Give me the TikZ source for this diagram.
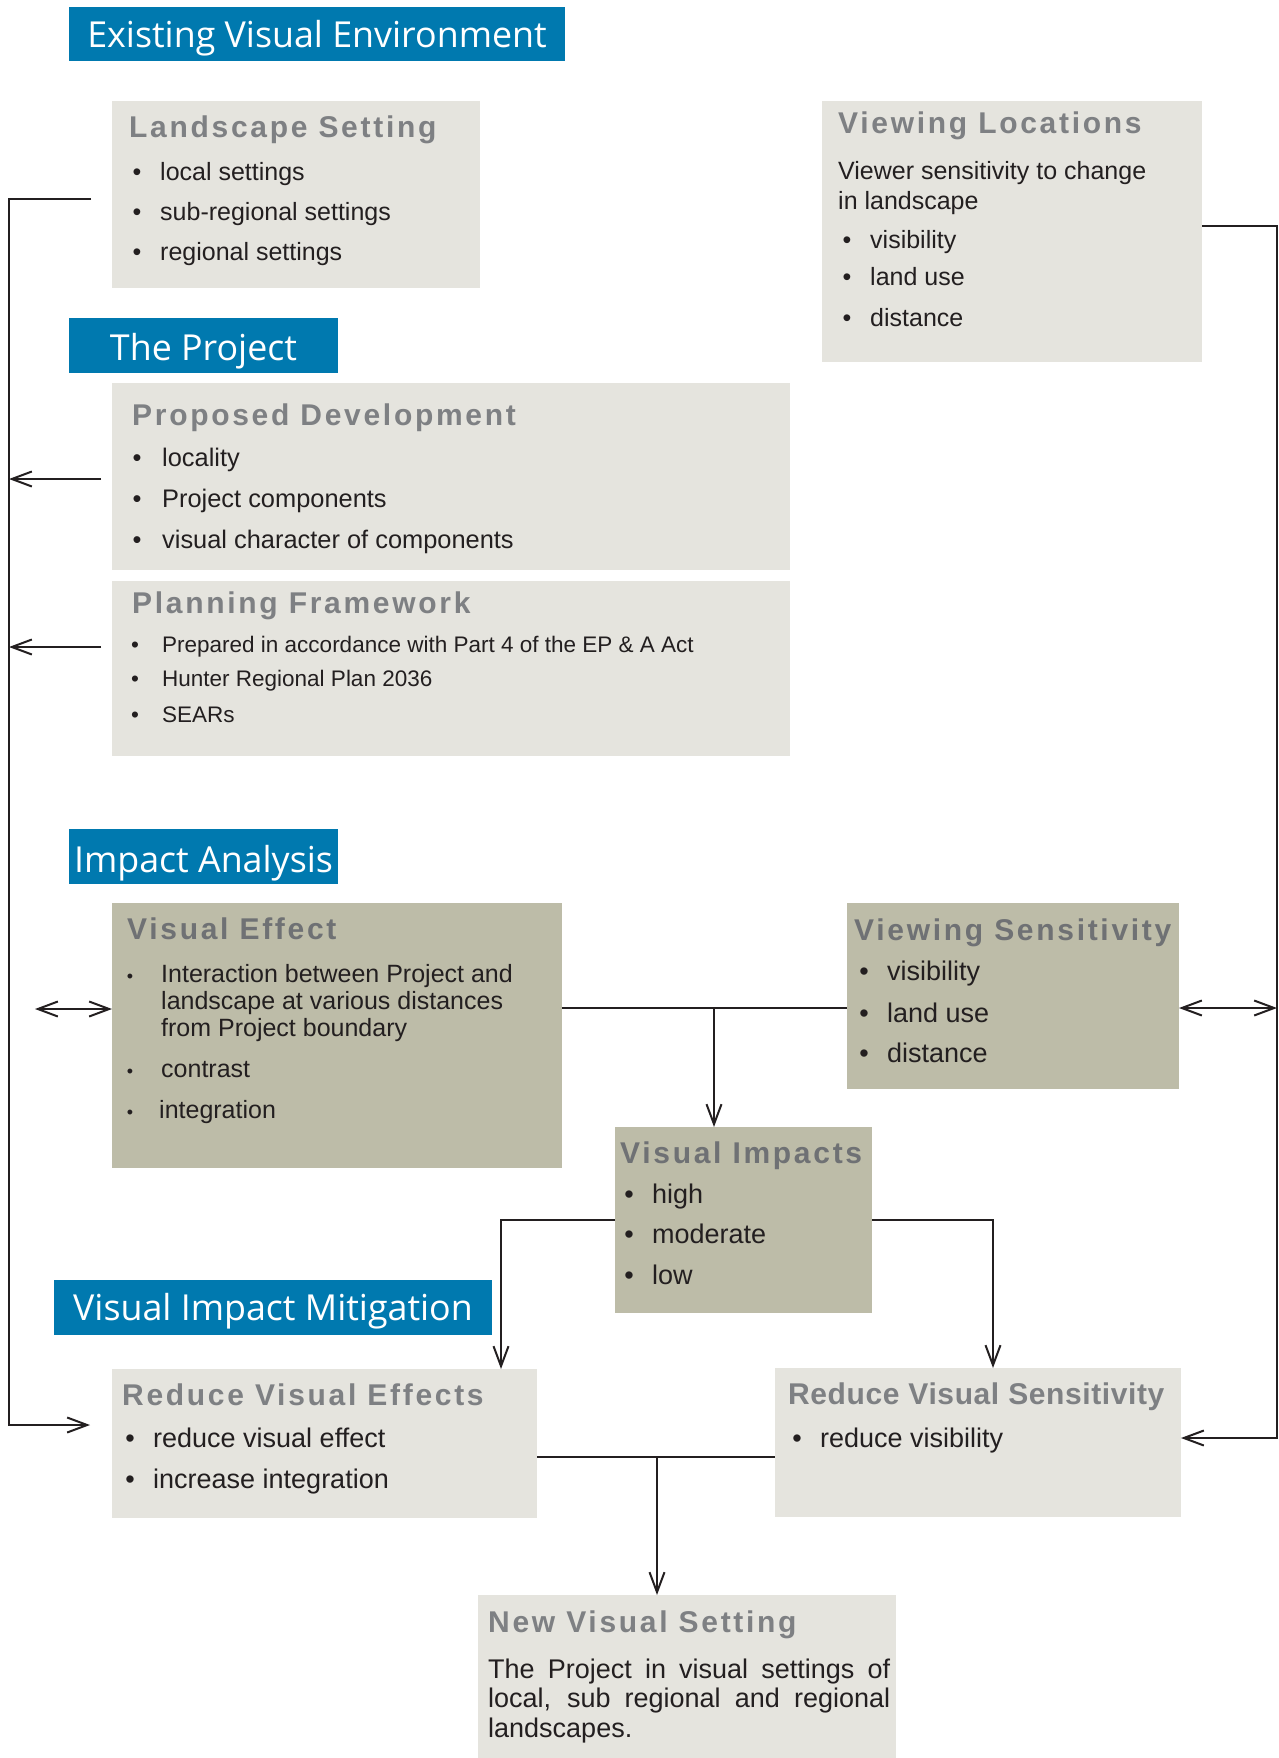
\documentclass[tikz,border=0pt]{standalone}
\usepackage{fontspec}
\setmainfont{Liberation Sans}
\newfontfamily\hdrfont{Open Sans}
\newfontfamily\ttlfont[LetterSpace=9]{Liberation Sans}
\newfontfamily\ttlfontn[LetterSpace=2]{Liberation Sans}
\usetikzlibrary{arrows.meta,calc}
\definecolor{hblue}{HTML}{0079AF}
\definecolor{lightbox}{HTML}{E5E4DE}
\definecolor{darkbox}{HTML}{BDBCA8}
\definecolor{ttlgray}{HTML}{7E8083}
\definecolor{ttldark}{HTML}{6F7174}
\definecolor{txt}{HTML}{231F20}
\newcommand\bitem[5]{%
  \node[bul] (#1b) at (#2,#4) {•};
  \node[body] (#1) at (#3,#4) {#5};}
\tikzset{
  every node/.style={font=\fontsize{25}{30}\selectfont},
  boxbase/.style={inner sep=0pt, outer sep=0pt, anchor=north west, draw=none},
  hdrbox/.style={boxbase, fill=hblue},
  lbox/.style={boxbase, fill=lightbox},
  dbox/.style={boxbase, fill=darkbox},
  hdrtext/.style={anchor=base, inner sep=0pt, text=white, font=\hdrfont\fontsize{35.8}{40}\selectfont},
  ttl/.style={anchor=base west, inner sep=0pt, text=ttlgray, font=\ttlfont\bfseries\fontsize{30}{36}\selectfont},
  ttld/.style={ttl, text=ttldark},
  body/.style={anchor=base west, inner sep=0pt, text=txt},
  bul/.style={anchor=base, inner sep=0pt, text=txt},
  conn/.style={draw=txt, line width=2pt},
  arr/.style={conn, -{Straight Barb[length=20pt,width=15pt]}},
  darr/.style={conn, {Straight Barb[length=20pt,width=15pt]}-{Straight Barb[length=20pt,width=15pt]}},
}
\begin{document}
\begin{tikzpicture}[x=1pt,y=-1pt]
\useasboundingbox (0,0) rectangle (1279,1758);

% ---------- header bars ----------
\node[hdrbox, minimum width=496pt, minimum height=54pt] (eve) at (69,7) {};
\node[hdrtext] (evet) at (317,48) {Existing Visual Environment};
\node[hdrbox, minimum width=269pt, minimum height=55pt] (proj) at (69,318) {};
\node[hdrtext] (projt) at (203.5,360) {The Project};
\node[hdrbox, minimum width=269pt, minimum height=55pt] (impact) at (69,829) {};
\node[hdrtext] (impactt) at (203.5,872) {Impact Analysis};
\node[hdrbox, minimum width=438pt, minimum height=55pt] (vim) at (54,1280) {};
\node[hdrtext] (vimt) at (273,1320) {Visual Impact Mitigation};

% ---------- Landscape Setting ----------
\node[lbox, minimum width=368pt, minimum height=187pt] (ls) at (112,101) {};
\node[ttl] (lst) at (129,138) {Landscape Setting};
\bitem{ls1}{137}{160}{180}{local settings}
\bitem{ls2}{137}{160}{220}{sub-regional settings}
\bitem{ls3}{137}{160}{260}{regional settings}

% ---------- Viewing Locations ----------
\node[lbox, minimum width=380pt, minimum height=261pt] (vl) at (822,101) {};
\node[ttl] (vlt) at (838,133) {Viewing Locations};
\node[body] (vla) at (838,179) {Viewer sensitivity to change};
\node[body] (vlb) at (838,209) {in landscape};
\bitem{vl1}{847}{870}{248}{visibility}
\bitem{vl2}{847}{870}{285}{land use}
\bitem{vl3}{847}{870}{326}{distance}

% ---------- Proposed Development ----------
\node[lbox, minimum width=678pt, minimum height=187pt] (pd) at (112,383) {};
\node[ttl] (pdt) at (132,425) {Proposed Development};
\begin{scope}[every node/.append style={font=\fontsize{25.4}{30}\selectfont}]
\bitem{pd1}{137}{162}{466}{locality}
\bitem{pd2}{137}{162}{507}{Project components}
\bitem{pd3}{137}{162}{548}{visual character of components}
\end{scope}

% ---------- Planning Framework ----------
\node[lbox, minimum width=678pt, minimum height=175pt] (pf) at (112,581) {};
\node[ttl] (pft) at (132,613) {Planning Framework};
\begin{scope}[every node/.append style={font=\fontsize{22.5}{26}\selectfont}]
\bitem{pf1}{135}{162}{652}{Prepared in accordance with Part 4 of the EP \& A Act}
\bitem{pf2}{135}{162}{686}{Hunter Regional Plan 2036}
\bitem{pf3}{135}{162}{722}{SEARs}
\end{scope}

% ---------- Visual Effect ----------
\node[dbox, minimum width=450pt, minimum height=265pt] (ve) at (112,903) {};
\node[ttld] (vet) at (127,939) {Visual Effect};
\begin{scope}[bul/.append style={font=\fontsize{18}{22}\selectfont}]
\bitem{ve1}{130}{161}{982}{Interaction between Project and}
\node[body] (ve1b) at (161,1009) {landscape at various distances};
\node[body] (ve1c) at (161,1036) {from Project boundary};
\bitem{ve2}{130}{161}{1077}{contrast}
\bitem{ve3}{130}{159}{1118}{integration}
\end{scope}

% ---------- Viewing Sensitivity ----------
\begin{scope}[every node/.append style={font=\fontsize{27}{32}\selectfont}]
\node[dbox, minimum width=332pt, minimum height=186pt] (vs) at (847,903) {};
\node[ttld] (vst) at (854,940) {Viewing Sensitivity};
\bitem{vs1}{864}{887}{980}{visibility}
\bitem{vs2}{864}{887}{1022}{land use}
\bitem{vs3}{864}{887}{1062}{distance}

% ---------- Visual Impacts ----------
\node[dbox, minimum width=257pt, minimum height=186pt] (vi) at (615,1127) {};
\node[ttld] (vit) at (620,1163) {Visual Impacts};
\bitem{vi1}{629}{652}{1203}{high}
\bitem{vi2}{629}{652}{1243}{moderate}
\bitem{vi3}{629}{652}{1284}{low}

% ---------- Reduce Visual Effects ----------
\node[lbox, minimum width=425pt, minimum height=149pt] (rve) at (112,1369) {};
\node[ttl] (rvet) at (122,1405) {Reduce Visual Effects};
\bitem{rve1}{130}{153}{1447}{reduce visual effect}
\bitem{rve2}{130}{153}{1488}{increase integration}

% ---------- Reduce Visual Sensitivity ----------
\node[lbox, minimum width=406pt, minimum height=149pt] (rvs) at (775,1368) {};
\node[ttl, font=\ttlfontn\bfseries\fontsize{30}{36}\selectfont] (rvst) at (788,1404) {Reduce Visual Sensitivity};
\bitem{rvs1}{797}{820}{1447}{reduce visibility}

% ---------- New Visual Setting ----------
\node[lbox, minimum width=418pt, minimum height=163pt] (nvs) at (478,1595) {};
\node[ttl] (nvst) at (488,1632) {New Visual Setting};
\node[body] (nvs1) at (488,1678) {\makebox[402pt][s]{The Project in visual settings of}};
\node[body] (nvs2) at (488,1707) {\makebox[402pt][s]{local, sub regional and regional}};
\node[body] (nvs3) at (488,1737) {landscapes.};
\end{scope}

% ---------- connector helper coordinates ----------
\coordinate (leftx) at (9,0);
\coordinate (rightx) at (1277,0);
\coordinate (lsL) at (91,199);
\coordinate (rveL) at (90,1425);
\coordinate (pdL) at (101,479);
\coordinate (pfL) at (101,647);
\coordinate (veL) at (35,1009);
\coordinate (mid1) at (714,1008);
\coordinate (vlR) at (1202,226);
\coordinate (rvsR) at (1181,1438);
\coordinate (viy) at (0,1220);
\coordinate (c8) at (501,0);
\coordinate (c9) at (993,0);
\coordinate (mid2) at (657,1457);

% ---------- connectors ----------
\draw[arr] (lsL) -- (lsL -| leftx) -- (rveL -| leftx) -- (rveL);
\draw[arr] (pdL) -- (pdL -| leftx);
\draw[arr] (pfL) -- (pfL -| leftx);
\draw[darr] (veL) -- (ve.west |- veL);
\draw[conn] (ve.east |- mid1) -- (vs.west |- mid1);
\draw[arr] (mid1) -- (vi.north -| mid1);
\draw[darr] (vs.east |- mid1) -- (rightx |- mid1);
\draw[arr] (vl.east |- vlR) -- (rightx |- vlR) -- (rightx |- rvsR) -- (rvs.east |- rvsR);
\draw[arr] (vi.west |- viy) -| (rve.north -| c8);
\draw[arr] (vi.east |- viy) -| (rvs.north -| c9);
\draw[conn] (rve.east |- mid2) -- (rvs.west |- mid2);
\draw[arr] (mid2) -- (nvs.north -| mid2);
\end{tikzpicture}
\end{document}
